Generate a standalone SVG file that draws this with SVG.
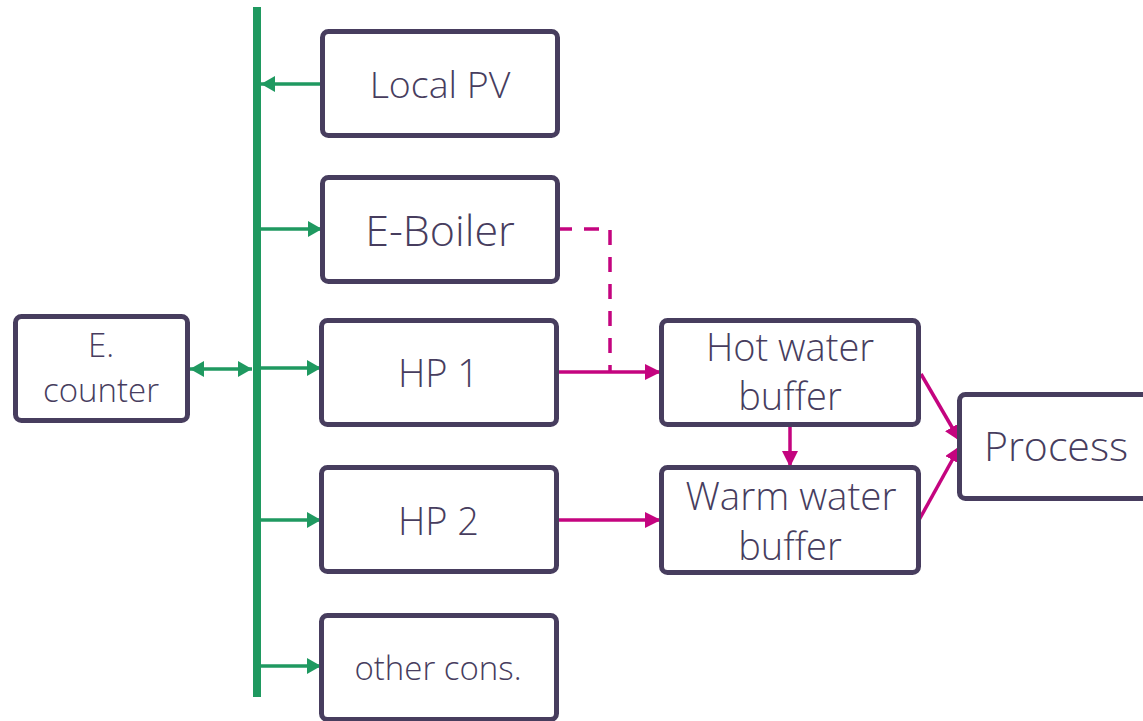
<svg xmlns="http://www.w3.org/2000/svg" width="1143" height="721" viewBox="0 0 1143 721">
<defs>
<style>
.box{fill:#fff;stroke:#473D5E;stroke-width:5}
.t{font-family:"Open Sans","Liberation Sans",sans-serif;font-weight:300;fill:#473D5E;text-anchor:middle}
.g{stroke:#1F9960;stroke-width:3.5;fill:none}
.m{stroke:#C4047F;stroke-width:3.5;fill:none}
</style>
<marker id="ag" viewBox="0 0 14 16" refX="14" refY="8" markerWidth="14" markerHeight="16" markerUnits="userSpaceOnUse" orient="auto-start-reverse"><path d="M0,0 L14,8 L0,16 Z" fill="#1F9960"/></marker>
<marker id="am" viewBox="0 0 16 16" refX="16" refY="8" markerWidth="16" markerHeight="16" markerUnits="userSpaceOnUse" orient="auto"><path d="M0,0 L16,8 L0,16 Z" fill="#C4047F"/></marker>
</defs>
<rect width="1143" height="721" fill="#fff"/>
<g id="connectors">
<line x1="257" y1="7" x2="257" y2="697" stroke="#1F9960" stroke-width="8"/>
<line class="g" x1="322" y1="84" x2="261" y2="84" marker-end="url(#ag)"/>
<line class="g" x1="261" y1="229" x2="322" y2="229" marker-end="url(#ag)"/>
<line class="g" x1="261" y1="368" x2="321" y2="368" marker-end="url(#ag)"/>
<line class="g" x1="190" y1="369" x2="252" y2="369" marker-start="url(#ag)" marker-end="url(#ag)"/>
<line class="g" x1="261" y1="520" x2="321" y2="520" marker-end="url(#ag)"/>
<line class="g" x1="261" y1="666" x2="321" y2="666" marker-end="url(#ag)"/>
<path class="m" d="M557,229 H610 V371" stroke-dasharray="15,12"/>
<line class="m" x1="557" y1="372" x2="661" y2="372" marker-end="url(#am)"/>
<line class="m" x1="557" y1="520" x2="661" y2="520" marker-end="url(#am)"/>
<line class="m" x1="790" y1="425" x2="790" y2="467" marker-end="url(#am)"/>
<line class="m" x1="921" y1="374" x2="960" y2="441" marker-end="url(#am)"/>
<line class="m" x1="919" y1="520" x2="960" y2="446" marker-end="url(#am)"/>
</g>
<g id="local-pv"><rect class="box" x="322.5" y="31.5" width="235" height="104" rx="6"/><text class="t" x="440" y="98" font-size="37.5">Local PV</text></g>
<g id="e-boiler"><rect class="box" x="322.5" y="177.5" width="235" height="104" rx="6"/><text class="t" x="440" y="246" font-size="43">E-Boiler</text></g>
<g id="hp1"><rect class="box" x="321.5" y="320.5" width="235" height="104" rx="6"/><text class="t" x="438.5" y="387" font-size="38">HP 1</text></g>
<g id="hp2"><rect class="box" x="321.5" y="467.5" width="235" height="104" rx="6"/><text class="t" x="438.5" y="535" font-size="38">HP 2</text></g>
<g id="other-cons"><rect class="box" x="321.5" y="615.5" width="235" height="104" rx="6"/><text class="t" x="438" y="680" font-size="33">other cons.</text></g>
<g id="e-counter"><rect class="box" x="15.5" y="316.5" width="172" height="104" rx="6"/><text class="t" x="101" y="357" font-size="33">E.</text><text class="t" x="101" y="402" font-size="33">counter</text></g>
<g id="hot-water"><rect class="box" x="661.5" y="320.5" width="257" height="104" rx="6"/><text class="t" x="790" y="361" font-size="38">Hot water</text><text class="t" x="790" y="410" font-size="38">buffer</text></g>
<g id="warm-water"><rect class="box" x="661.5" y="467.5" width="257" height="105" rx="6"/><text class="t" x="791" y="510" font-size="38.5">Warm water</text><text class="t" x="790" y="560" font-size="38">buffer</text></g>
<g id="process"><rect class="box" x="959.5" y="394.5" width="200" height="104" rx="6"/><text class="t" x="1056" y="461" font-size="41">Process</text></g>
</svg>
